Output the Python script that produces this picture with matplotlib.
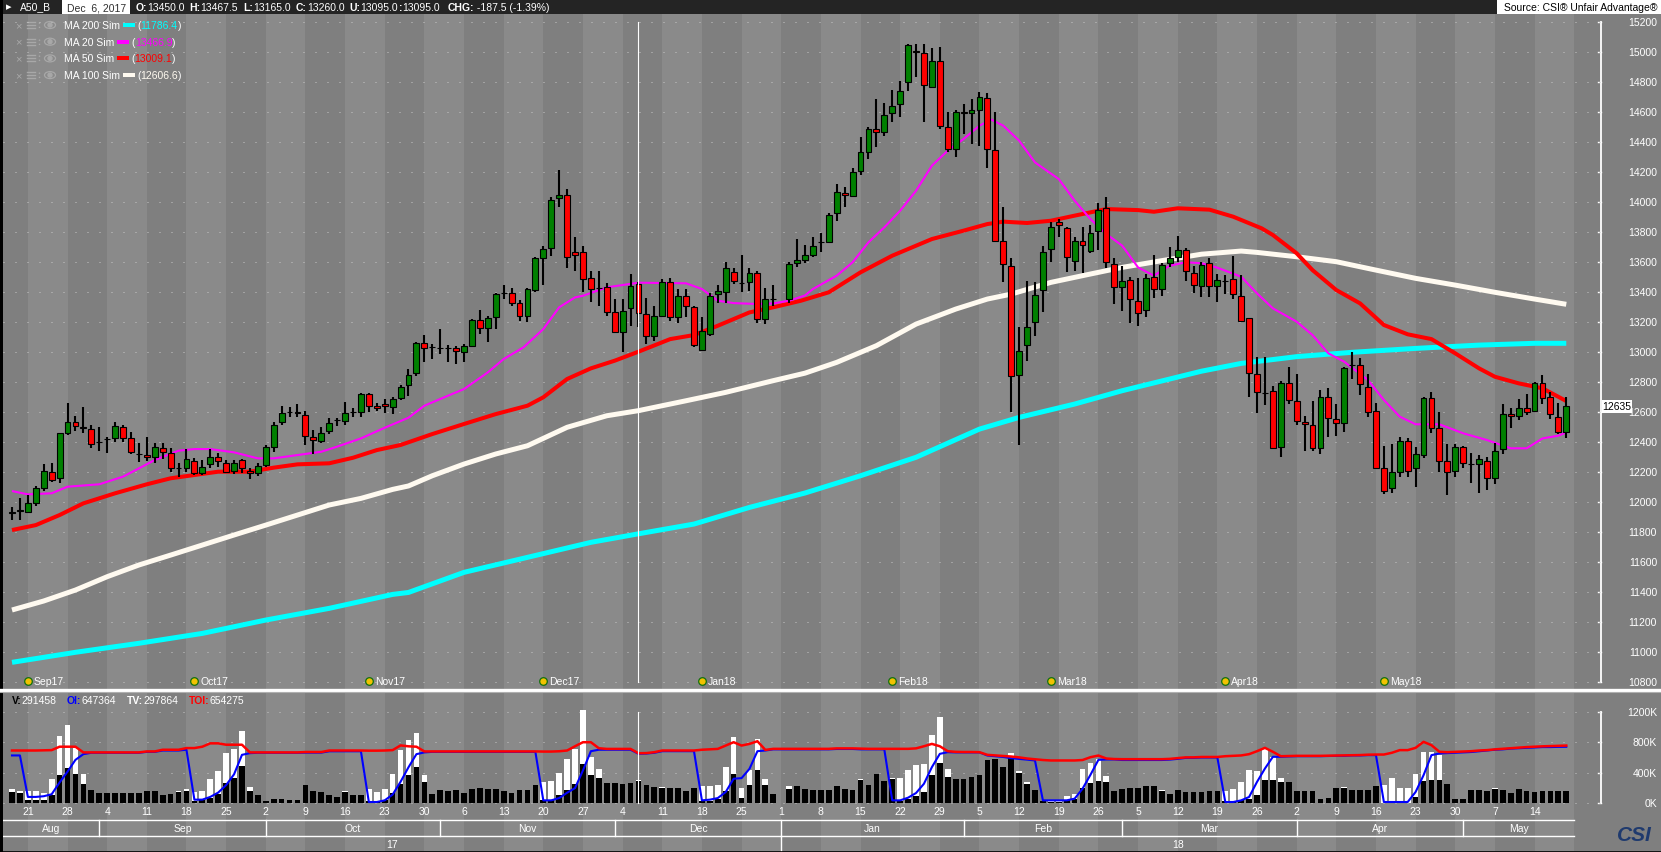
#!/usr/bin/env python3
# A50_B daily candles with moving averages, volume / open interest panel below.
import numpy as np
import matplotlib
matplotlib.use("Agg")
import matplotlib.pyplot as plt
from matplotlib.patches import Rectangle, Ellipse, Circle

plt.rcParams['font.family'] = ['Liberation Sans', 'DejaVu Sans']

# ---------------------------
# data (one slot per weekday, slot 0 = Thu 17 Aug 2017, slot 97 = 1 Jan holiday)
# ---------------------------
nan = np.nan
opens = [
    11927, 11936, 11933, 11989, 12093, 12200, 12156, 12460, 12529, 12500,
    12482, 12400, 12416, 12422, 12500, 12427, 12316, 12311, 12296, 12360,
    12327, 12227, 12227, 12273, 12189, 12249, 12300, 12256, 12207, 12276,
    12204, 12193, 12244, 12367, 12533, 12600, 12600, 12578, 12433, 12404,
    12471, 12544, 12538, 12596, 12596, 12716, 12638, 12649, 12633, 12693,
    12778, 12856, 13056, 13029, 13022, 13022, 13022, 12996, 13040, 13211,
    13156, 13229, 13389, 13389, 13322, 13236, 13413, 13622, 13691, 14024,
    14047, 13662, 13662, 13489, 13424, 13429, 13262, 13129, 13289, 13450,
    13251, 13102, 13240, 13462, 13229, 13369, 13296, 13011, 13118, 13384,
    13396, 13533, 13458, 13462, 13522, 13218, 13351, nan, 13351, 13591,
    13611, 13647, 13729, 13729, 13922, 14056, 14040, 14207, 14329, 14484,
    14462, 14589, 14651, 14796, 15007, 14989, 14767, 14936, 14500, 14351,
    14600, 14591, 14613, 14689, 14347, 13740, 13573, 12844, 13044, 13200,
    13411, 13684, 13862, 13822, 13607, 13740, 13673, 13807, 13958, 13584,
    13429, 13480, 13340, 13278, 13496, 13418, 13589, 13633, 13678, 13524,
    13440, 13589, 13440, 13473, 13484, 13373, 13222, 12849, 12727, 12738,
    12367, 12789, 12673, 12533, 12511, 12360, 12700, 12551, 12527, 12911,
    12911, 12767, 12607, 12227, 12089, 12200, 12407, 12222, 12311, 12693,
    12489, 12273, 12207, 12367, 12249, 12249, 12273, 12156, 12349, 12584,
    12573, 12627, 12604, 12789, 12696, 12567, 12467,
]
highs = [
    11967, 12022, 12044, 12107, 12249, 12256, 12460, 12656, 12573, 12633,
    12511, 12500, 12433, 12533, 12511, 12462, 12389, 12433, 12389, 12389,
    12360, 12260, 12351, 12289, 12278, 12351, 12327, 12278, 12278, 12284,
    12227, 12256, 12378, 12533, 12638, 12629, 12651, 12607, 12478, 12500,
    12560, 12560, 12667, 12622, 12722, 12722, 12660, 12684, 12700, 12778,
    12884, 13062, 13111, 13051, 13151, 13045, 13040, 13051, 13218, 13280,
    13236, 13389, 13444, 13422, 13347, 13422, 13629, 13707, 14033, 14211,
    14084, 13762, 13707, 13540, 13540, 13456, 13351, 13351, 13518, 13467.5,
    13356, 13302, 13484, 13489, 13418, 13418, 13307, 13229, 13389, 13444,
    13596, 13556, 13644, 13556, 13540, 13422, 13447, nan, 13600, 13751,
    13711, 13762, 13791, 13922, 14118, 14096, 14222, 14429, 14500, 14684,
    14658, 14747, 14802, 15051, 15051, 15051, 15022, 15029, 14600, 14611,
    14651, 14684, 14729, 14724, 14596, 13962, 13622, 13162, 13473, 13462,
    13702, 13862, 13884, 13833, 13762, 13829, 13844, 13991, 14029, 13622,
    13569, 13496, 13489, 13518, 13647, 13589, 13696, 13773, 13689, 13573,
    13596, 13622, 13516, 13511, 13640, 13511, 13227, 12967, 12962, 12773,
    12804, 12900, 12849, 12571, 12673, 12744, 12760, 12649, 12900, 13000,
    12960, 12851, 12656, 12373, 12382, 12433, 12427, 12367, 12700, 12733,
    12596, 12382, 12382, 12373, 12322, 12311, 12300, 12393, 12649, 12622,
    12682, 12716, 12800, 12844, 12733, 12656, 12696,
]
lows = [
    11878, 11878, 11922, 11971, 12071, 12129, 12127, 12444, 12471, 12456,
    12356, 12338, 12322, 12400, 12400, 12316, 12267, 12271, 12256, 12282,
    12200, 12167, 12200, 12178, 12178, 12222, 12233, 12189, 12184, 12189,
    12149, 12173, 12233, 12333, 12511, 12567, 12567, 12378, 12316, 12389,
    12449, 12507, 12511, 12567, 12567, 12596, 12607, 12589, 12582, 12678,
    12707, 12840, 12929, 12951, 12985, 12933, 12918, 12929, 13029, 13116,
    13067, 13151, 13351, 13307, 13207, 13200, 13396, 13447, 13640, 13962,
    13556, 13540, 13400, 13329, 13307, 13236, 13122, 13000, 13173, 13165,
    13051, 13073, 13229, 13207, 13189, 13229, 13029, 13002, 13103, 13324,
    13324, 13451, 13400, 13407, 13191, 13184, 13307, nan, 13324, 13562,
    13589, 13629, 13667, 13722, 13873, 13967, 14029, 14178, 14284, 14367,
    14440, 14533, 14562, 14736, 14833, 14533, 14758, 14484, 14329, 14296,
    14451, 14384, 14369, 14222, 13729, 13462, 12596, 12378, 12940, 13107,
    13267, 13600, 13762, 13533, 13540, 13524, 13658, 13680, 13556, 13318,
    13273, 13191, 13173, 13229, 13356, 13369, 13562, 13596, 13473, 13389,
    13362, 13362, 13329, 13382, 13349, 13200, 12700, 12593, 12644, 12351,
    12300, 12651, 12511, 12338, 12338, 12318, 12433, 12440, 12467, 12818,
    12711, 12567, 12216, 12051, 12058, 12167, 12167, 12100, 12289, 12460,
    12200, 12044, 12167, 12222, 12122, 12060, 12078, 12118, 12318, 12493,
    12544, 12578, 12600, 12651, 12551, 12451, 12427,
]
closes = [
    11930, 11944, 11989, 12093, 12207, 12144, 12456, 12529, 12507, 12489,
    12384, 12400, 12416, 12507, 12427, 12329, 12316, 12296, 12362, 12329,
    12222, 12227, 12282, 12193, 12233, 12300, 12273, 12200, 12260, 12222,
    12193, 12238, 12362, 12511, 12593, 12600, 12589, 12440, 12413, 12460,
    12527, 12544, 12589, 12596, 12716, 12638, 12627, 12638, 12684, 12767,
    12844, 13056, 13022, 13029, 13022, 13022, 13005, 13036, 13211, 13156,
    13225, 13384, 13389, 13324, 13236, 13418, 13622, 13684, 14011, 14044,
    13629, 13644, 13484, 13418, 13424, 13262, 13129, 13273, 13440, 13260,
    13107, 13236, 13462, 13229, 13369, 13302, 13044, 13136, 13373, 13402,
    13556, 13473, 13458, 13524, 13218, 13351, 13351, nan, 13584, 13611,
    13644, 13707, 13729, 13913, 14062, 14044, 14200, 14329, 14484, 14462,
    14580, 14640, 14736, 15044, 14996, 14778, 14940, 14507, 14351, 14600,
    14591, 14613, 14696, 14351, 13740, 13584, 12836, 13007, 13167, 13380,
    13667, 13833, 13844, 13629, 13740, 13711, 13791, 13944, 13600, 13429,
    13473, 13351, 13258, 13489, 13418, 13580, 13624, 13678, 13540, 13444,
    13578, 13440, 13478, 13473, 13382, 13207, 12856, 12733, 12727, 12356,
    12789, 12678, 12540, 12516, 12356, 12700, 12560, 12527, 12893, 12911,
    12782, 12600, 12222, 12073, 12200, 12407, 12207, 12318, 12693, 12493,
    12273, 12200, 12367, 12260, 12249, 12282, 12156, 12340, 12584, 12573,
    12622, 12600, 12789, 12693, 12582, 12467, 12635,
]

# moving averages: (slot, value)
ma20_x = [0, 2, 5, 7, 11, 14, 16, 18, 21, 23, 25, 28, 31, 33, 36, 39, 41, 44, 47, 50,
          52, 55, 57, 60, 62, 64.5, 67, 69, 71, 72, 75, 79, 85, 87, 89, 91, 94, 96, 98, 100,
          101, 104, 106, 108, 110, 112, 114, 116, 118, 120, 122, 123.5, 125, 127, 129, 132,
          134, 136, 138, 140, 142, 144, 146, 148, 150, 152, 155, 157, 159, 162, 164, 166,
          168, 171, 173, 175, 177, 180, 183, 186, 189, 191, 193, 195, 196]
ma20_y = [12071, 12049, 12056, 12100, 12116, 12167, 12222, 12278, 12340, 12351, 12351,
          12329, 12289, 12289, 12311, 12333, 12367, 12422, 12493, 12560, 12640, 12707,
          12751, 12862, 12951, 13029, 13151, 13296, 13362, 13373, 13429, 13460, 13456,
          13418, 13340, 13324, 13318, 13322, 13340, 13375, 13418, 13507, 13596, 13729,
          13829, 13940, 14073, 14240, 14340, 14418, 14507, 14547, 14507, 14407, 14262,
          14151, 14007, 13884, 13784, 13707, 13562, 13507, 13573, 13596, 13590, 13560,
          13500, 13389, 13289, 13200, 13111, 12989, 12933, 12811, 12678, 12567, 12516,
          12516, 12456, 12411, 12356, 12356, 12422, 12440, 12462]
ma50_x = [0, 3, 6, 9, 13, 17, 20, 23, 26, 30, 33, 36, 40, 43, 46, 49, 53, 57, 61, 65,
          67, 70, 73, 76, 79, 83, 86, 89, 93, 96, 99.5, 103, 107, 111, 116, 120, 123, 125,
          128, 131, 134, 138, 142, 144, 147, 151, 154, 157.6, 159, 162, 164, 167, 170, 173,
          176, 179, 182, 185, 187, 190, 193, 196]
ma50_y = [11811, 11844, 11911, 11989, 12056, 12116, 12156, 12178, 12200, 12200, 12227,
          12249, 12256, 12293, 12344, 12378, 12451, 12518, 12584, 12640, 12696, 12818,
          12889, 12940, 13000, 13084, 13111, 13173, 13262, 13296, 13340, 13396, 13529,
          13640, 13751, 13807, 13851, 13867, 13858, 13873, 13907, 13951, 13944, 13933,
          13956, 13947, 13900, 13822, 13778, 13656, 13544, 13411, 13322, 13178, 13116,
          13084, 12989, 12889, 12833, 12789, 12756, 12671]
ma100_x = [0, 4, 8, 12, 16, 20, 24, 28, 32, 36, 40, 44, 48, 50, 53, 57, 61, 65, 70, 75,
           79, 85, 90, 96, 100, 104, 109, 114, 119, 123, 126, 131, 136, 140, 145, 150, 155,
           157, 162, 167, 172, 177, 182, 187, 192, 196]
ma100_y = [11278, 11338, 11411, 11500, 11578, 11644, 11711, 11778, 11844, 11911, 11978,
           12022, 12082, 12105, 12173, 12251, 12318, 12373, 12496, 12573, 12607, 12673,
           12729, 12807, 12857, 12929, 13040, 13184, 13284, 13351, 13384, 13462, 13518,
           13562, 13607, 13650, 13671, 13662, 13633, 13600, 13544, 13489, 13444, 13396,
           13351, 13316]
ma200_x = [0, 8, 16, 24, 32, 40, 48, 50, 57, 65, 73, 79, 86, 93, 100, 107, 114, 122, 127,
           134, 140, 146, 150, 155, 162, 169, 177, 185, 192, 196]
ma200_y = [10929, 10996, 11056, 11122, 11211, 11289, 11382, 11395, 11529, 11629, 11729,
           11786, 11851, 11962, 12058, 12173, 12296, 12484, 12562, 12651, 12740, 12818,
           12870, 12922, 12967, 12996, 13022, 13044, 13056, 13056]

ma_names = ['MA 200 Sim', 'MA 20 Sim', 'MA 50 Sim', 'MA 100 Sim']
ma_values = ['11786.4', '13466.9', '13009.1', '12606.6']

# volume (black), total volume (white), open interest (blue), total OI (red), in K
volume = [
    146, 133, 35, 35, 35, 102, 368, 456, 381, 248,
    168, 137, 137, 137, 137, 137, 137, 159, 155, 102,
    115, 146, 155, 22, 35, 66, 124, 257, 332, 487,
    155, 111, 22, 58, 58, 35, 44, 235, 155, 146,
    102, 80, 146, 102, 111, 22, 22, 35, 133, 248,
    368, 470, 279, 124, 177, 155, 168, 137, 182, 199,
    182, 182, 155, 137, 177, 168, 235, 35, 35, 100,
    166, 253, 515, 371, 327, 266, 262, 249, 266, 291,
    240, 209, 196, 196, 196, 153, 201, 22, 22, 48,
    153, 384, 70, 231, 436, 240, 122, 0, 188, 223,
    179, 175, 166, 166, 223, 179, 175, 305, 231, 375,
    284, 319, 22, 57, 92, 144, 362, 528, 340, 310,
    319, 336, 371, 567, 572, 471, 589, 397, 253, 166,
    22, 13, 13, 35, 57, 201, 262, 290, 280, 153,
    189, 202, 202, 220, 220, 158, 114, 167, 145, 145,
    145, 154, 158, 22, 22, 35, 57, 110, 308, 299,
    277, 277, 154, 154, 154, 57, 70, 202, 198, 167,
    176, 167, 220, 4, 4, 4, 4, 79, 286, 299,
    299, 246, 57, 57, 167, 176, 154, 189, 176, 136,
    180, 154, 145, 154, 154, 154, 154,
]
total_volume = [
    190, 155, 155, 155, 137, 310, 877, 1019, 722, 381,
    177, 137, 137, 137, 137, 137, 137, 159, 164, 102,
    120, 155, 190, 146, 155, 310, 421, 656, 709, 944,
    213, 111, 22, 58, 58, 35, 44, 235, 155, 146,
    102, 80, 155, 102, 111, 190, 146, 182, 381, 700,
    833, 921, 368, 124, 177, 155, 168, 137, 182, 199,
    182, 182, 155, 137, 177, 168, 235, 270, 290, 397,
    572, 711, 1222, 602, 450, 266, 266, 249, 266, 298,
    240, 209, 205, 196, 196, 153, 201, 223, 223, 240,
    471, 873, 201, 428, 842, 319, 122, 0, 223, 227,
    179, 175, 166, 166, 227, 179, 175, 310, 231, 375,
    284, 327, 327, 428, 493, 515, 899, 1126, 450, 310,
    319, 336, 371, 567, 572, 471, 659, 420, 275, 166,
    22, 22, 22, 87, 122, 450, 528, 580, 360, 153,
    189, 202, 202, 220, 220, 167, 114, 167, 145, 145,
    145, 154, 158, 154, 189, 277, 440, 418, 717, 607,
    330, 277, 154, 154, 154, 57, 70, 202, 207, 167,
    176, 167, 220, 233, 334, 202, 202, 378, 664, 664,
    629, 246, 57, 57, 167, 176, 154, 198, 176, 136,
    189, 154, 145, 158, 154, 154, 154,
]
open_interest = [
    625, 625, 80, 80, 89, 115, 270, 412, 567, 642,
    660, 660, 660, 660, 660, 660, 660, 672, 672, 690,
    690, 690, 700, 44, 44, 80, 137, 235, 377, 633,
    655, 660, 660, 660, 660, 660, 660, 662, 662, 662,
    680, 680, 680, 680, 680, 13, 13, 35, 111, 279,
    470, 642, 665, 672, 672, 672, 672, 672, 672, 672,
    672, 672, 672, 672, 672, 672, 672, 35, 35, 65,
    135, 196, 428, 681, 700, 700, 700, 700, 700, 647,
    650, 660, 681, 681, 681, 681, 681, 35, 44, 65,
    144, 319, 327, 449, 681, 690, 705, 705, 705, 705,
    705, 705, 705, 705, 710, 710, 710, 705, 705, 705,
    705, 35, 35, 70, 131, 253, 471, 646, 668, 665,
    665, 665, 665, 624, 615, 605, 589, 580, 570, 559,
    35, 35, 35, 35, 57, 188, 371, 567, 572, 572,
    565, 565, 565, 565, 565, 565, 570, 580, 593, 593,
    598, 598, 598, 13, 13, 35, 79, 277, 453, 607,
    607, 612, 615, 615, 615, 615, 618, 620, 620, 625,
    625, 629, 629, 13, 13, 13, 13, 145, 365, 629,
    651, 655, 660, 665, 670, 680, 690, 700, 705, 715,
    720, 725, 730, 735, 735, 738, 739,
]
total_oi = [
    690, 690, 690, 690, 692, 695, 740, 740, 740, 665,
    665, 665, 665, 665, 665, 665, 665, 678, 678, 700,
    700, 700, 722, 722, 740, 784, 784, 766, 766, 766,
    665, 665, 665, 665, 665, 665, 665, 670, 670, 670,
    690, 690, 690, 690, 690, 688, 688, 690, 695, 757,
    745, 740, 678, 678, 678, 678, 678, 678, 678, 678,
    678, 678, 678, 678, 678, 678, 678, 676, 676, 680,
    690, 746, 799, 799, 720, 711, 711, 711, 711, 654,
    656, 668, 690, 690, 690, 690, 690, 700, 705, 711,
    755, 799, 755, 777, 812, 698, 712, 712, 712, 712,
    712, 712, 712, 712, 718, 718, 718, 715, 712, 712,
    712, 712, 712, 712, 718, 746, 777, 746, 681, 672,
    670, 670, 668, 633, 625, 618, 611, 600, 585, 575,
    565, 559, 559, 559, 559, 565, 602, 624, 585, 578,
    576, 576, 576, 576, 576, 576, 580, 590, 600, 600,
    605, 605, 605, 615, 620, 625, 642, 681, 725, 673,
    615, 618, 620, 620, 620, 620, 622, 625, 625, 628,
    630, 635, 637, 637, 660, 695, 695, 725, 804, 760,
    673, 668, 672, 676, 681, 690, 695, 705, 712, 720,
    728, 735, 740, 745, 748, 752, 755,
]

# calendar labels
week_days = ['21', '28', '4', '11', '18', '25', '2', '9', '16', '23', '30', '6', '13',
             '20', '27', '4', '11', '18', '25', '1', '8', '15', '22', '29', '5', '12',
             '19', '26', '5', '12', '19', '26', '2', '9', '16', '23', '30', '7', '14']
months = ['Aug', 'Sep', 'Oct', 'Nov', 'Dec', 'Jan', 'Feb', 'Mar', 'Apr', 'May']
month_start = [0, 11, 32, 54, 76, 97, 120, 140, 162, 183]
years = ['17', '18']
year_start = [0, 97]
contracts = ['Sep17', 'Oct17', 'Nov17', 'Dec17', 'Jan18', 'Feb18', 'Mar18', 'Apr18', 'May18']
contract_slot = [2, 23, 45, 67, 87, 111, 131, 153, 173]
cursor_slot = 79

header_labels = ['O:', 'H:', 'L:', 'C:', 'U:', ':', 'CHG:']
header_values = ['13450.0', '13467.5', '13165.0', '13260.0', '13095.0', '13095.0',
                 '-187.5 (-1.39%)']
vol_labels = ['V:', 'OI:', 'TV:', 'TOI:']
vol_values = ['291458', '647364', '297864', '654275']

# ---------------------------
# layout (pixels)
# ---------------------------
W, H = 1661, 853
X0, DX = 12.0, 7.93          # centre of slot 0 and slot width
AX_X = 1601                  # right value-axis line
END_X = X0 + DX * 197        # end of date area
LIGHT, DARK = '#8a8a8a', '#7f7f7f'
GRID = '#c6c6c6'
ICON = '#a8a8a8'
FS = 7.5
header_x = [136, 189, 243, 296, 349, 399, 448]
vol_label_x = [12, 67, 127, 189]


def px(i):
    return X0 + DX * i


def price_y(p):
    return 22.7 + (15200 - p) * 0.15


def vol_y(v):
    return 804.0 - v * 0.07608


def frame(x0, y0, x1, y1):
    return [x0 / W, 1 - y1 / H, (x1 - x0) / W, (y1 - y0) / H]


fig = plt.figure(figsize=(W / 100, H / 100), dpi=100)
fig.patch.set_facecolor(DARK)
bg = fig.add_axes([0, 0, 1, 1])
bg.set_xlim(0, W)
bg.set_ylim(H, 0)
bg.axis('off')
renderer = fig.canvas.get_renderer()


def chain(x, y, pieces, size=FS):
    # place text pieces one after another, return end x
    for s, col, wt in pieces:
        t = bg.text(x, y, s, color=col, fontsize=size, fontweight=wt,
                    ha='left', va='center', zorder=12)
        x += t.get_window_extent(renderer=renderer).width
    return x


# weekly bands
for w in range(-1, 39):
    left = 3 if w < 0 else px(2 + 5 * w)
    right = px(2 + 5 * (w + 1))
    bg.add_patch(Rectangle((left, 15), right - left, 837, color=LIGHT if w % 2 == 0 else DARK,
                           zorder=0, lw=0))

# header strip
bg.add_patch(Rectangle((0, 0), W, 15, color='#242424', zorder=10, lw=0))
bg.text(9, 7.5, '▸', color='white', fontsize=8, ha='center', va='center', zorder=12)
bg.text(20, 7.5, 'A50_B', color='white', fontsize=FS, ha='left', va='center', zorder=12)
bg.add_patch(Rectangle((62, 1), 68, 14, color='white', zorder=11, lw=0))
bg.text(67, 8, 'Dec  6, 2017', color='#303030', fontsize=FS, ha='left', va='center', zorder=12)
for x, lab, val in zip(header_x, header_labels, header_values):
    chain(x, 8, [(lab, 'white', 'bold'), (' ' * (lab == 'CHG:') + val, 'white', 'normal')])
bg.add_patch(Rectangle((1497, 0), W - 1497, 15, color='white', zorder=11, lw=0))
bg.text(1657, 8, 'Source: CSI® Unfair Advantage®', color='black', fontsize=FS,
        ha='right', va='center', zorder=12)

# borders and panel separator
bg.add_patch(Rectangle((0, 0), 3, H, color='black', zorder=10, lw=0))
bg.plot([0, W], [852.5, 852.5], color='black', lw=1.2, zorder=10)
bg.plot([0, W], [690.5, 690.5], color='white', lw=2.4, zorder=10)
bg.plot([0, W], [692.5, 692.5], color='#b0b0b0', lw=0.8, zorder=10)

# ---------------------------
# price panel
# ---------------------------
pa = fig.add_axes(frame(3, 15, AX_X, 689))
pa.set_xlim((3 - X0) / DX, (AX_X - X0) / DX)
pa.set_ylim(15200 - (689 - 22.7) / 0.15, 15200 - (15 - 22.7) / 0.15)
pa.axis('off')
pa.patch.set_alpha(0)
xlo, xhi = pa.get_xlim()
for p in range(10800, 15201, 200):
    pa.plot([xlo, xhi], [p, p], color=GRID, lw=0.72, ls=(0, (1, 11)), zorder=1)

line_kw = dict(zorder=2, solid_joinstyle='round', solid_capstyle='butt')
pa.plot(ma200_x, ma200_y, color='#00ffff', lw=3.6, **line_kw)
pa.plot(ma100_x, ma100_y, color='#fffaf0', lw=3.6, **line_kw)
pa.plot(ma50_x, ma50_y, color='#ff0000', lw=2.9, **line_kw)
pa.plot(ma20_x, ma20_y, color='#ff00ff', lw=1.5, **line_kw)

o = np.array(opens, float)
h = np.array(highs, float)
l = np.array(lows, float)
c = np.array(closes, float)
slots = np.arange(len(o))
ok = ~np.isnan(o)
pa.vlines(slots[ok], l[ok], h[ok], color='black', lw=1.5, zorder=3)
body_col = ['#008000' if cc >= oo else '#ff0000' for oo, cc in zip(o[ok], c[ok])]
pa.bar(slots[ok], np.abs(c[ok] - o[ok]), bottom=np.minimum(o[ok], c[ok]), width=0.74,
       color=body_col, edgecolor='black', linewidth=0.8, zorder=4)

pa.plot([cursor_slot, cursor_slot], [10800, 15200], color='white', lw=0.8, zorder=5)

# contract roll markers
pa.scatter(contract_slot, [10806] * len(contract_slot), s=30, color='#f2c200',
           edgecolor='#107010', linewidth=0.9, zorder=6)
for name, s in zip(contracts, contract_slot):
    bg.text(px(s) + 6, 682, name, color='white', fontsize=FS, ha='left', va='center', zorder=6)

# MA legend
for k, (name, val, col) in enumerate(zip(ma_names, ma_values,
                                          ['#00ffff', '#ff00ff', '#ff0000', '#fffaf0'])):
    y = 26 + 16.7 * k
    bg.text(18, y, '×', color=ICON, fontsize=8, ha='center', va='center', zorder=12)
    for dy in (-3, 0, 3):
        bg.plot([27, 35], [y + dy, y + dy], color=ICON, lw=1, zorder=12)
    bg.plot([38.5, 38.5], [y - 3, y + 3], color=ICON, lw=1, ls=(0, (1, 2)), zorder=12)
    bg.add_patch(Ellipse((50, y), 11, 7, fill=False, ec=ICON, lw=0.9, zorder=12))
    bg.add_patch(Circle((50, y), 2, color=ICON, zorder=12))
    x = chain(64, y, [(name, 'white', 'normal')])
    bg.add_patch(Rectangle((x + 3, y - 2), 12, 4, color=col, zorder=12, lw=0))
    chain(x + 17, y, [('(', 'white', 'normal'), (val, col, 'normal'), (')', 'white', 'normal')])

# price axis
bg.plot([AX_X, AX_X], [price_y(15200), price_y(10800)], color='white', lw=1.3, zorder=8)
for p in range(10800, 15201, 200):
    y = price_y(p)
    bg.plot([AX_X - 3, AX_X], [y, y], color='white', lw=1, zorder=8)
    bg.text(1657, y, str(p), color='white', fontsize=FS, ha='right', va='center', zorder=8)
last = closes[-1]
bg.add_patch(Rectangle((AX_X + 1, price_y(last) - 6.5), 30, 13, color='white', zorder=9, lw=0))
bg.text(AX_X + 16, price_y(last), f'{last:.0f}', color='black', fontsize=FS,
        ha='center', va='center', zorder=9)

# ---------------------------
# volume / OI panel
# ---------------------------
va = fig.add_axes(frame(3, 693, AX_X, 820))
va.set_xlim(xlo, xhi)
va.set_ylim(-(820 - 804) / 0.07608, (804 - 693) / 0.07608)
va.axis('off')
va.patch.set_alpha(0)
for v in (0, 400, 800, 1200):
    va.plot([xlo, xhi], [v, v], color=GRID, lw=0.72, ls=(0, (1, 11)), zorder=1)
va.bar(slots, total_volume, width=0.72, color='white', zorder=2)
va.bar(slots, volume, width=0.72, color='black', zorder=3)
va.plot(slots, open_interest, color='#0000ff', lw=1.5, zorder=4)
va.plot(slots, total_oi, color='#ff0000', lw=1.8, zorder=5)
va.plot([cursor_slot, cursor_slot], [0, 1200], color='white', lw=0.8, zorder=6)

for x, lab, val, col in zip(vol_label_x, vol_labels, vol_values,
                            ['black', '#0000ff', 'white', '#ff0000']):
    chain(x, 701, [(lab, col, 'bold'), (val, 'white', 'normal')])

bg.plot([AX_X, AX_X], [vol_y(1200), vol_y(0)], color='white', lw=1.3, zorder=8)
for v in (0, 400, 800, 1200):
    y = vol_y(v)
    bg.plot([AX_X - 3, AX_X], [y, y], color='white', lw=1, zorder=8)
    bg.text(1657, y, f'{v}K', color='white', fontsize=FS, ha='right', va='center', zorder=8)

# ---------------------------
# date rows
# ---------------------------
for w, d in enumerate(week_days):
    bg.text(px(2 + 5 * w), 812, d, color='white', fontsize=FS, ha='center', va='center', zorder=8)

bg.plot([3, END_X], [821, 821], color='white', lw=1, zorder=8)
bg.plot([3, END_X], [837, 837], color='white', lw=1, zorder=8)
edges = [3] + [px(s) for s in month_start[1:]] + [END_X]
for k, name in enumerate(months):
    if k > 0:
        bg.plot([edges[k], edges[k]], [821, 837], color='white', lw=1, zorder=8)
    bg.text((edges[k] + edges[k + 1]) / 2, 829.5, name, color='white', fontsize=FS,
            ha='center', va='center', zorder=8)
yedges = [3] + [px(s) for s in year_start[1:]] + [END_X]
for k, name in enumerate(years):
    if k > 0:
        bg.plot([yedges[k], yedges[k]], [837, 852], color='white', lw=1, zorder=8)
    bg.text((yedges[k] + yedges[k + 1]) / 2, 845, name, color='white', fontsize=FS,
            ha='center', va='center', zorder=8)

# CSI badge
bg.text(1634, 836, 'CSI', color='#1f3a6e', fontsize=15, fontweight='bold', fontstyle='italic',
        ha='center', va='center', zorder=8)

fig.savefig('out.png', dpi=100, facecolor=fig.get_facecolor())
